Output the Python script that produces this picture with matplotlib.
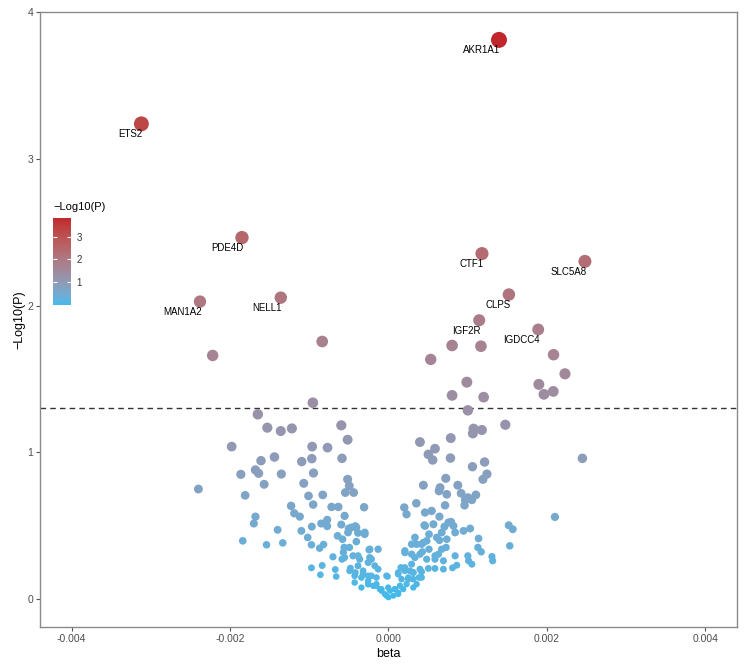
import numpy as np
import matplotlib
matplotlib.use('Agg')
import matplotlib.pyplot as plt
import matplotlib.colors as mcolors

plt.rcParams['font.family'] = ['Liberation Sans', 'DejaVu Sans']

# genes with labels
genes = ['AKR1A1', 'ETS2', 'PDE4D', 'CTF1', 'SLC5A8', 'CLPS', 'NELL1', 'MAN1A2', 'IGF2R', 'IGDCC4']
genes_beta = [0.001395, -0.00312, -0.00185, 0.00118, 0.00248, 0.00152, -0.00136, -0.00238, 0.001145, 0.00189]
genes_logp = [3.81, 3.238, 2.463, 2.354, 2.301, 2.075, 2.054, 2.027, 1.90, 1.837]

# all the other points
other_beta = [
    -0.000837, -0.00222, 0.000803, 0.001167, 0.000533, 0.002084, 0.002228, 0.000989, 0.000803, 0.001201,
    0.001898, 0.001962, 0.00208, -0.000955,
    -0.00165, -0.00153, -0.00136, -0.00122, -0.000596, -0.000516, -0.00198, -0.000964, -0.00077, -0.00144,
    -0.00161, -0.001095, -0.000968, -0.000587, -0.00168, -0.00164, -0.001864, -0.001353, -0.000947, -0.0024,
    -0.00181, -0.00157, -0.00107, -0.000516, -0.000495, -0.000545, -0.00044, -0.00101, -0.00083, -0.00123,
    -0.000951, -0.000719, -0.000634, -0.000308, -0.00119, -0.00112, -0.00168, -0.0017, -0.0014, -0.00184,
    -0.00154, -0.001335, -0.0011, -0.00102, -0.000968, -0.00085, -0.000774, -0.000774, -0.00087, -0.00082,
    -0.000973, -0.000973, -0.000837, -0.00086, -0.000701, -0.000672, -0.00066, -0.000643, -0.000596, -0.00058,
    -0.00056, -0.00057, -0.000587, -0.000469, -0.000418, -0.000406, -0.000494, -0.000385, -0.0003, -0.000245,
    -0.000131, -0.000216, -0.000385, -0.000481, -0.000418, -0.000342, -0.000257, -0.000165, -0.000089, -0.000025,
    -0.0000127, 0.000123, 0.000123, -0.000554, -0.000503, -0.000406, -0.0003, -0.000237, -0.000448, -0.000364,
    -0.000385, -0.000257, -0.000173, -0.000321, -0.000216, -0.000257, -0.000152, -0.00011, -0.000047, 0.0,
    0.00008, 0.00006, 0.000144, 0.000156, 0.000207, 0.000199, 0.00027, 0.00025, 0.000313, 0.000228,
    0.000313, 0.000186, 0.000123, 0.000017, 0.000397, 0.000418, 0.000355, 0.000511, 0.000418, 0.000587,
    0.000672, 0.000461, 0.000672, 0.000736, 0.000757, 0.000461, -0.000511, -0.000554, -0.00049, -0.000427,
    -0.000342, -0.000427,
    0.001002, 0.001475, 0.001074, 0.001179, 0.001065, 0.000397, 0.000786, 0.000587, 0.000503, 0.000558,
    0.000782, 0.001213, 0.00106, 0.001243, 0.001192, 0.000723, 0.00044, 0.000651, 0.000875, 0.000917,
    0.001103, 0.001003, 0.000638, 0.000736, 0.000968, 0.001053, 0.00096, 0.000351, 0.000714, 0.000228,
    0.000545, 0.000643, 0.000453, 0.000567, 0.000706, 0.00079, 0.00082, 0.000841, 0.000947, 0.001031,
    0.001137, 0.001518, 0.001569, 0.001531, 0.001129, 0.001171, 0.001306, 0.001315, 0.000334, 0.000292,
    0.000482, 0.000511, 0.000609, 0.000643, 0.000727, 0.00063, 0.000427, 0.000334, 0.000482, 0.000587,
    0.000693, 0.000841, 0.000808, 0.000862, 0.001002, 0.001011, 0.001053, 0.000693, 0.000587, 0.000503,
    0.000418, 0.000384, 0.000313, 0.000207, 0.002448, 0.002101,
    -0.000237, -0.000321, -0.000257, -0.000152, -0.000025, -0.000004, 0.00008, 0.000123, 0.000207, 0.00025,
    0.000313, 0.000292, 0.000397, 0.000207, 0.000355, 0.00044, -0.000131, -0.000194, -0.000089, -0.000257,
    0.000292, 0.000165,
]
other_logp = [
    1.755, 1.66, 1.728, 1.723, 1.633, 1.665, 1.535, 1.478, 1.388, 1.376,
    1.463, 1.395, 1.415, 1.338,
    1.259, 1.168, 1.145, 1.163, 1.184, 1.086, 1.039, 1.039, 1.032, 0.968,
    0.943, 0.937, 0.957, 0.959, 0.880, 0.857, 0.850, 0.852, 0.859, 0.750,
    0.707, 0.782, 0.789, 0.816, 0.771, 0.726, 0.726, 0.703, 0.710, 0.635,
    0.644, 0.628, 0.628, 0.626, 0.585, 0.562, 0.562, 0.515, 0.472, 0.397,
    0.370, 0.383, 0.465, 0.420, 0.494, 0.515, 0.540, 0.497, 0.347, 0.372,
    0.370, 0.213, 0.229, 0.166, 0.288, 0.202, 0.154, 0.431, 0.508, 0.408,
    0.352, 0.318, 0.272, 0.488, 0.497, 0.392, 0.352, 0.451, 0.442, 0.336,
    0.340, 0.272, 0.295, 0.211, 0.181, 0.147, 0.125, 0.091, 0.057, 0.023,
    0.154, 0.045, 0.170, 0.567, 0.481, 0.488, 0.454, 0.340, 0.295, 0.272,
    0.227, 0.249, 0.227, 0.170, 0.159, 0.102, 0.102, 0.068, 0.034, 0.012,
    0.068, 0.023, 0.091, 0.215, 0.329, 0.624, 0.193, 0.147, 0.136, 0.102,
    0.079, 0.068, 0.034, 0.057, 0.204, 0.147, 0.102, 0.340, 0.374, 0.295,
    0.340, 0.499, 0.454, 0.408, 0.522, 0.590, 0.454, 0.283, 0.193, 0.113,
    0.079, 0.159,
    1.286, 1.188, 1.161, 1.152, 1.129, 1.070, 1.097, 1.025, 0.986, 0.948,
    0.961, 0.934, 0.902, 0.852, 0.816, 0.823, 0.776, 0.760, 0.776, 0.721,
    0.710, 0.692, 0.737, 0.714, 0.676, 0.676, 0.639, 0.653, 0.639, 0.578,
    0.601, 0.562, 0.503, 0.510, 0.494, 0.526, 0.499, 0.454, 0.465, 0.481,
    0.413, 0.503, 0.476, 0.363, 0.352, 0.322, 0.290, 0.261, 0.420, 0.374,
    0.397, 0.442, 0.420, 0.401, 0.352, 0.306, 0.322, 0.283, 0.272, 0.272,
    0.261, 0.295, 0.213, 0.231, 0.295, 0.261, 0.238, 0.204, 0.209, 0.209,
    0.186, 0.147, 0.181, 0.193, 0.959, 0.560,
    0.283, 0.193, 0.159, 0.147, 0.159, 0.079, 0.068, 0.181, 0.215, 0.136,
    0.181, 0.306, 0.306, 0.317, 0.374, 0.385, 0.204, 0.091, 0.068, 0.102,
    0.238, 0.136,
]

x_ticks = [-0.004, -0.002, 0.000, 0.002, 0.004]
x_ticklabels = ['-0.004', '-0.002', '0.000', '0.002', '0.004']
y_ticks = [0, 1, 2, 3, 4]
threshold = -np.log10(0.05)


# ggplot style gradient (interpolated in Lab space)
M = np.array([[0.4124, 0.3576, 0.1805], [0.2126, 0.7152, 0.0722], [0.0193, 0.1192, 0.9505]])
white = np.array([0.95047, 1.0, 1.08883])

def hex2lab(h):
    rgb = np.array(mcolors.to_rgb(h))
    lin = np.where(rgb <= 0.04045, rgb / 12.92, ((rgb + 0.055) / 1.055) ** 2.4)
    xyz = M @ lin / white
    f = np.where(xyz > 0.008856, np.cbrt(xyz), 7.787 * xyz + 16 / 116)
    return np.array([116 * f[1] - 16, 500 * (f[0] - f[1]), 200 * (f[1] - f[2])])

def lab2rgb(lab):
    fy = (lab[:, 0] + 16) / 116
    f = np.stack([fy + lab[:, 1] / 500, fy, fy - lab[:, 2] / 200], -1)
    xyz = np.where(f ** 3 > 0.008856, f ** 3, (f - 16 / 116) / 7.787) * white
    lin = np.clip(xyz @ np.linalg.inv(M).T, 0, None)
    rgb = np.where(lin <= 0.0031308, 12.92 * lin, 1.055 * lin ** (1 / 2.4) - 0.055)
    return np.clip(rgb, 0, 1)

low, high = hex2lab('#40BAEB'), hex2lab('#C0272D')
t = np.linspace(0, 1, 256)[:, None]
cmap = mcolors.ListedColormap(lab2rgb(low + (high - low) * t))

beta = np.array(other_beta + genes_beta)
logp = np.array(other_logp + genes_logp)
order = np.argsort(logp)
beta, logp = beta[order], logp[order]

norm = mcolors.Normalize(vmin=logp.min(), vmax=logp.max())
d_px = np.sqrt(36 + 220 * (logp - logp.min()) / (logp.max() - logp.min()))
sizes = (d_px * 0.72) ** 2

fig = plt.figure(figsize=(7.44, 6.65), dpi=100)
ax = fig.add_axes([40 / 744, 38 / 665, 697 / 744, 615 / 665])

ax.scatter(beta, logp, c=logp, cmap=cmap, norm=norm, s=sizes, edgecolors='none', zorder=3)
ax.axhline(threshold, color='#333333', linestyle=(0, (4, 3)), linewidth=1, zorder=2)

for g, b, p in zip(genes, genes_beta, genes_logp):
    ax.annotate(g, (b, p), xytext=(1, -4), textcoords='offset points',
                ha='right', va='top', fontsize=7, color='black', zorder=4)

ax.set_xlim(-0.0044, 0.0044)
ax.set_ylim(-0.19, 4.0)
ax.set_xticks(x_ticks)
ax.set_xticklabels(x_ticklabels)
ax.set_yticks(y_ticks)
ax.tick_params(length=3, width=0.8, color='#555555', labelsize=7.5, labelcolor='#4D4D4D', pad=2)
for sp in ax.spines.values():
    sp.set_color('#8A8A8A')
    sp.set_linewidth(1)
ax.set_xlabel('beta', fontsize=9, labelpad=3)
ax.set_ylabel('\u2212Log10(P)', fontsize=9, labelpad=1)

# legend colour bar
cax = fig.add_axes([53 / 744, (665 - 305) / 665, 18 / 744, 87 / 665])
sm = plt.cm.ScalarMappable(norm=norm, cmap=cmap)
cb = fig.colorbar(sm, cax=cax, ticks=[1, 2, 3])
cb.outline.set_visible(False)
cax.tick_params(direction='in', length=3, width=0.8, color='white', left=True, right=True,
                labelsize=7, labelcolor='#333333', pad=4)
fig.text(53 / 744, (665 - 207) / 665, '\u2212Log10(P)', fontsize=8, ha='left', va='center')

fig.savefig('out.png', dpi=100)
